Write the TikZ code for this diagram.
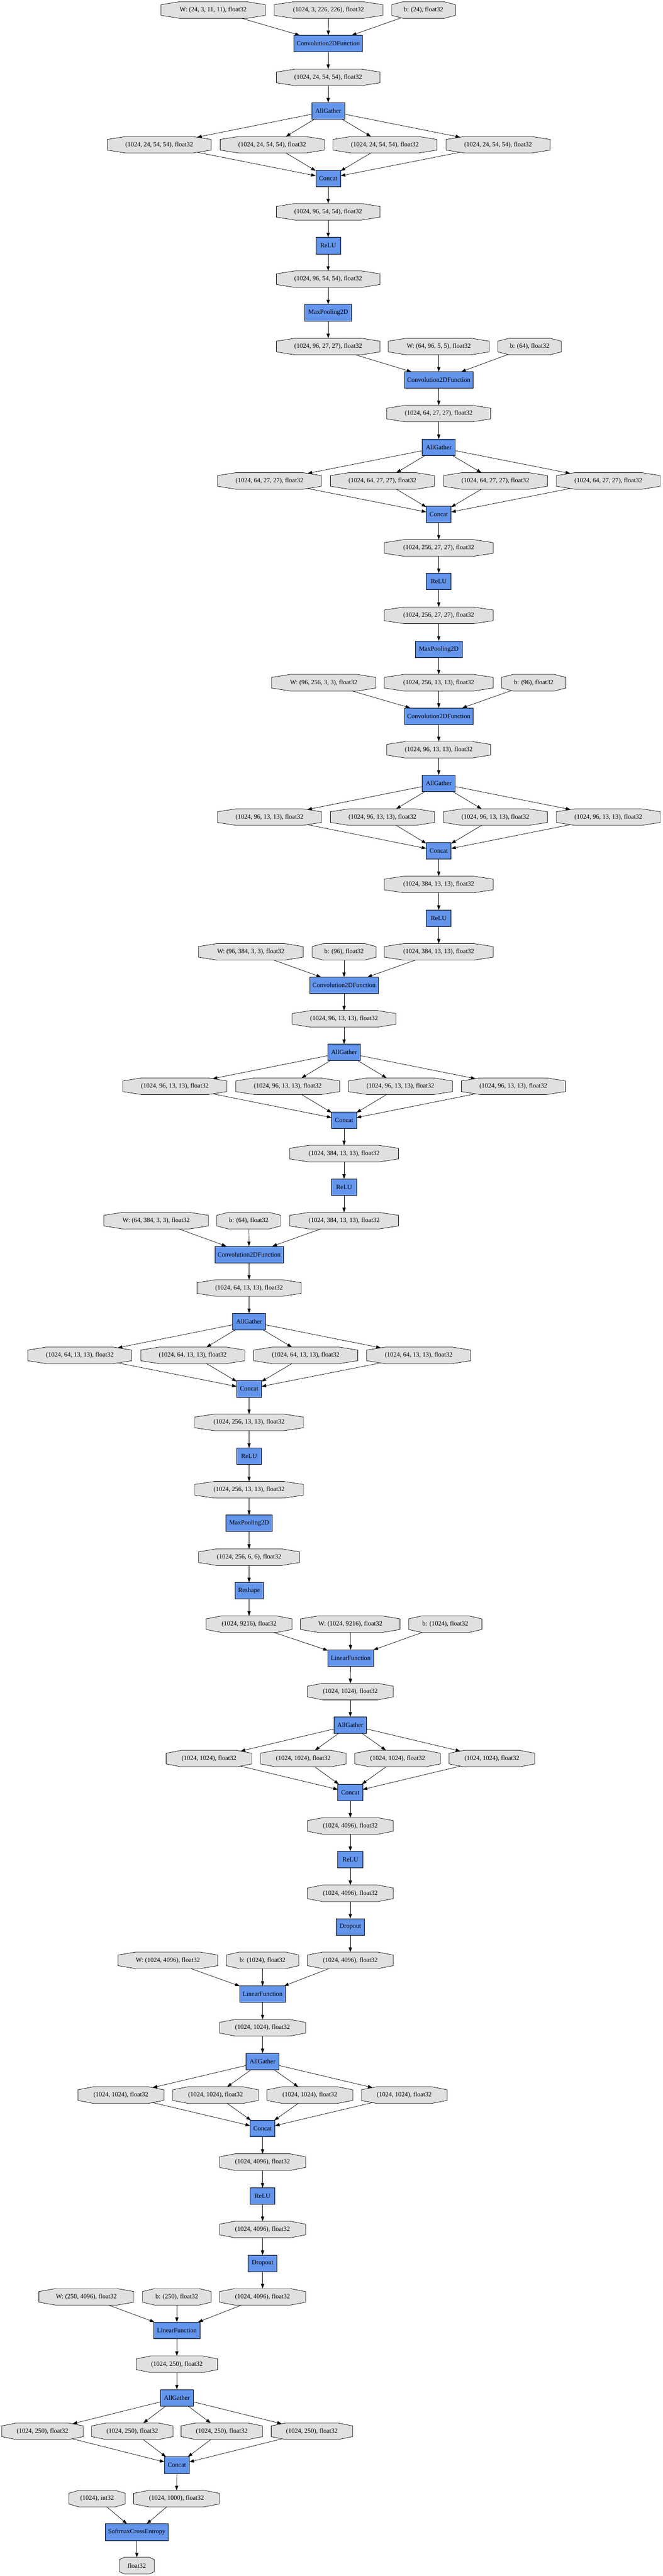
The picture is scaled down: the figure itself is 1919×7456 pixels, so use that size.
\documentclass[tikz,border=0pt]{standalone}
\usepackage{fontspec}
\setmainfont{Liberation Serif}
\usetikzlibrary{shapes.misc,arrows.meta}
\definecolor{octgray}{HTML}{E0E0E0}
\definecolor{fnblue}{HTML}{6495ED}
\newcommand\mytxt[1]{\makebox[0pt]{#1}}
\tikzset{
  nbase/.style={font=\fontsize{14pt}{16pt}\selectfont, inner sep=0pt, outer sep=0pt, minimum height=36pt, line width=0.8pt, draw=black},
  oct/.code={\pgfmathsetmacro\octw{0.75*#1}\pgfmathsetmacro\octc{0.2929*0.75*#1}%
    \pgfmathsetmacro\octa{atan(\octc/10.5)}%
    \tikzset{nbase, chamfered rectangle, chamfered rectangle angle=\octa, chamfered rectangle xsep=\octc pt, chamfered rectangle ysep=10.5pt, minimum width=\octw pt, fill=octgray}},
  fn/.code={\pgfmathsetmacro\fnw{0.75*#1}\tikzset{nbase, rectangle, fill=fnblue, minimum width=\fnw pt}},
  edge/.style={-{Triangle[length=10pt,width=7pt]}, line width=0.8pt, black},
}
\newcommand\fanout[7]{%
  \foreach \xx [count=\ii] in {#5} {
    \node[oct=#6] (#1\ii) at (\xx,#4) {\mytxt{#7}};
    \draw[edge] (#2) -- (#1\ii);
    \draw[edge] (#1\ii) -- (#3);
  }}
\begin{document}
\begin{tikzpicture}[x=0.75pt,y=-0.75pt]
\useasboundingbox (0,0) rectangle (1919,7456);
% ---- block 1
\node[oct=303] (w1) at (617,29) {\mytxt{W: (24, 3, 11, 11), float32}};
\node[oct=315] (x0) at (951,29) {\mytxt{(1024, 3, 226, 226), float32}};
\node[oct=185] (b1) at (1226,29) {\mytxt{b: (24), float32}};
\node[fn=199] (conv1) at (950,126) {Convolution2DFunction};
\node[oct=300] (t1) at (950,224) {\mytxt{(1024, 24, 54, 54), float32}};
\node[fn=95] (ag1) at (950,321) {AllGather};
\node[fn=72] (cc1) at (950,516) {Concat};
\fanout{ga}{ag1}{cc1}{419}{461,788,1114,1442}{301}{(1024, 24, 54, 54), float32}
\node[oct=300] (t2) at (950,613) {\mytxt{(1024, 96, 54, 54), float32}};
\node[fn=72] (relu1) at (950,711) {ReLU};
\node[oct=300] (t3) at (950,808) {\mytxt{(1024, 96, 54, 54), float32}};
\node[fn=136] (mp1) at (950,905) {MaxPooling2D};
% ---- block 2
\node[oct=300] (t4) at (950,1003) {\mytxt{(1024, 96, 27, 27), float32}};
\node[oct=292] (w2) at (1270,1003) {\mytxt{W: (64, 96, 5, 5), float32}};
\node[oct=184] (b2) at (1533,1003) {\mytxt{b: (64), float32}};
\node[fn=199] (conv2) at (1270,1100) {Convolution2DFunction};
\node[oct=301] (t5) at (1270,1197) {\mytxt{(1024, 64, 27, 27), float32}};
\node[fn=95] (ag2) at (1270,1295) {AllGather};
\node[fn=72] (cc2) at (1270,1489) {Concat};
\fanout{gb}{ag2}{cc2}{1392}{780,1107,1434,1761}{301}{(1024, 64, 27, 27), float32}
\node[oct=315] (t6) at (1270,1586) {\mytxt{(1024, 256, 27, 27), float32}};
\node[fn=72] (relu2) at (1270,1683) {ReLU};
\node[oct=315] (t7) at (1270,1781) {\mytxt{(1024, 256, 27, 27), float32}};
\node[fn=135] (mp2) at (1270,1879) {MaxPooling2D};
% ---- block 3
\node[oct=302] (w3) at (937,1976) {\mytxt{W: (96, 256, 3, 3), float32}};
\node[oct=315] (t8) at (1270,1976) {\mytxt{(1024, 256, 13, 13), float32}};
\node[oct=186] (b3) at (1545,1976) {\mytxt{b: (96), float32}};
\node[fn=199] (conv3) at (1270,2073) {Convolution2DFunction};
\node[oct=301] (t9) at (1270,2170) {\mytxt{(1024, 96, 13, 13), float32}};
\node[fn=95] (ag3) at (1270,2267) {AllGather};
\node[fn=72] (cc3) at (1270,2463) {Concat};
\fanout{gc}{ag3}{cc3}{2365}{780,1107,1434,1761}{301}{(1024, 96, 13, 13), float32}
\node[oct=315] (t10) at (1270,2560) {\mytxt{(1024, 384, 13, 13), float32}};
\node[fn=72] (relu3) at (1270,2658) {ReLU};
% ---- block 4
\node[oct=303] (w4) at (726,2755) {\mytxt{W: (96, 384, 3, 3), float32}};
\node[oct=185] (b4) at (996,2755) {\mytxt{b: (96), float32}};
\node[oct=315] (t11) at (1270,2755) {\mytxt{(1024, 384, 13, 13), float32}};
\node[fn=198] (conv4) at (996,2852) {Convolution2DFunction};
\node[oct=301] (t12) at (996,2949) {\mytxt{(1024, 96, 13, 13), float32}};
\node[fn=95] (ag4) at (996,3046) {AllGather};
\node[fn=72] (cc4) at (996,3242) {Concat};
\fanout{gd}{ag4}{cc4}{3144}{506,833,1159,1486}{301}{(1024, 96, 13, 13), float32}
\node[oct=315] (t13) at (996,3339) {\mytxt{(1024, 384, 13, 13), float32}};
\node[fn=72] (relu4) at (996,3436) {ReLU};
% ---- block 5
\node[oct=302] (w5) at (452,3533) {\mytxt{W: (64, 384, 3, 3), float32}};
\node[oct=185] (b5) at (720,3533) {\mytxt{b: (64), float32}};
\node[oct=315] (t14) at (996,3533) {\mytxt{(1024, 384, 13, 13), float32}};
\node[fn=198] (conv5) at (721,3631) {Convolution2DFunction};
\node[oct=301] (t15) at (721,3728) {\mytxt{(1024, 64, 13, 13), float32}};
\node[fn=95] (ag5) at (721,3825) {AllGather};
\node[fn=72] (cc5) at (721,4020) {Concat};
\fanout{ge}{ag5}{cc5}{3923}{231,558,885,1212}{301}{(1024, 64, 13, 13), float32}
\node[oct=315] (t16) at (721,4117) {\mytxt{(1024, 256, 13, 13), float32}};
\node[fn=72] (relu5) at (721,4215) {ReLU};
\node[oct=315] (t17) at (721,4312) {\mytxt{(1024, 256, 13, 13), float32}};
\node[fn=134] (mp3) at (721,4409) {MaxPooling2D};
\node[oct=293] (t18) at (721,4507) {\mytxt{(1024, 256, 6, 6), float32}};
\node[fn=82] (reshape) at (721,4604) {Reshape};
% ---- block 6
\node[oct=249] (t19) at (721,4701) {\mytxt{(1024, 9216), float32}};
\node[oct=288] (w6) at (1014,4701) {\mytxt{W: (1024, 9216), float32}};
\node[oct=212] (b6) at (1289,4701) {\mytxt{b: (1024), float32}};
\node[fn=132] (lin1) at (1015,4799) {LinearFunction};
\node[oct=248] (t20) at (1014,4896) {\mytxt{(1024, 1024), float32}};
\node[fn=95] (ag6) at (1014,4993) {AllGather};
\node[fn=72] (cc6) at (1014,5188) {Concat};
\fanout{gf}{ag6}{cc6}{5090}{605,878,1151,1424}{248}{(1024, 1024), float32}
\node[oct=248] (t21) at (1014,5285) {\mytxt{(1024, 4096), float32}};
\node[fn=72] (relu6) at (1014,5382) {ReLU};
\node[oct=248] (t22) at (1014,5480) {\mytxt{(1024, 4096), float32}};
\node[fn=83] (do1) at (1014,5577) {Dropout};
% ---- block 7
\node[oct=289] (w7) at (486,5674) {\mytxt{W: (1024, 4096), float32}};
\node[oct=210] (b7) at (760,5674) {\mytxt{b: (1024), float32}};
\node[oct=248] (t23) at (1014,5674) {\mytxt{(1024, 4096), float32}};
\node[fn=132] (lin2) at (760,5772) {LinearFunction};
\node[oct=249] (t24) at (760,5869) {\mytxt{(1024, 1024), float32}};
\node[fn=95] (ag7) at (760,5967) {AllGather};
\node[fn=72] (cc7) at (760,6161) {Concat};
\fanout{gg}{ag7}{cc7}{6064}{350,624,897,1170}{249}{(1024, 1024), float32}
\node[oct=249] (t25) at (760,6258) {\mytxt{(1024, 4096), float32}};
\node[fn=72] (relu7) at (760,6356) {ReLU};
\node[oct=249] (t26) at (760,6453) {\mytxt{(1024, 4096), float32}};
\node[fn=83] (do2) at (760,6551) {Dropout};
% ---- block 8
\node[oct=275] (w8) at (250,6648) {\mytxt{W: (250, 4096), float32}};
\node[oct=199] (b8) at (512,6648) {\mytxt{b: (250), float32}};
\node[oct=249] (t27) at (760,6648) {\mytxt{(1024, 4096), float32}};
\node[fn=133] (lin3) at (512,6745) {LinearFunction};
\node[oct=236] (t28) at (512,6843) {\mytxt{(1024, 250), float32}};
\node[fn=94] (ag8) at (512,6940) {AllGather};
\node[fn=72] (cc8) at (512,7135) {Concat};
\fanout{gh}{ag8}{cc8}{7037}{123,383,642,903}{236}{(1024, 250), float32}
\node[oct=163] (lab) at (281,7232) {\mytxt{(1024), int32}};
\node[oct=248] (t29) at (511,7232) {\mytxt{(1024, 1000), float32}};
\node[fn=182] (sce) at (396,7329) {SoftmaxCrossEntropy};
\node[oct=102] (out) at (396,7426) {\mytxt{float32}};
% ---- edges
\foreach \a/\b in {w1/conv1, x0/conv1, b1/conv1, conv1/t1, t1/ag1, cc1/t2, t2/relu1, relu1/t3, t3/mp1, mp1/t4,
  t4/conv2, w2/conv2, b2/conv2, conv2/t5, t5/ag2, cc2/t6, t6/relu2, relu2/t7, t7/mp2, mp2/t8,
  w3/conv3, t8/conv3, b3/conv3, conv3/t9, t9/ag3, cc3/t10, t10/relu3, relu3/t11,
  w4/conv4, b4/conv4, t11/conv4, conv4/t12, t12/ag4, cc4/t13, t13/relu4, relu4/t14,
  w5/conv5, b5/conv5, t14/conv5, conv5/t15, t15/ag5, cc5/t16, t16/relu5, relu5/t17, t17/mp3, mp3/t18, t18/reshape, reshape/t19,
  t19/lin1, w6/lin1, b6/lin1, lin1/t20, t20/ag6, cc6/t21, t21/relu6, relu6/t22, t22/do1, do1/t23,
  w7/lin2, b7/lin2, t23/lin2, lin2/t24, t24/ag7, cc7/t25, t25/relu7, relu7/t26, t26/do2, do2/t27,
  w8/lin3, b8/lin3, t27/lin3, lin3/t28, t28/ag8, cc8/t29, lab/sce, t29/sce, sce/out}
  \draw[edge] (\a) -- (\b);
\end{tikzpicture}
\end{document}
